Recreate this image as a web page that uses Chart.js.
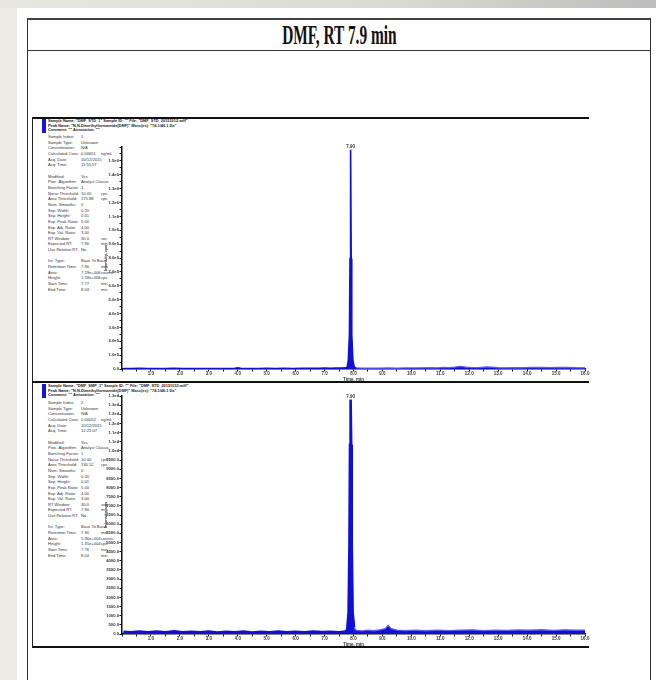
<!DOCTYPE html>
<html>
<head>
<meta charset="utf-8">
<script src="https://cdn.jsdelivr.net/npm/chart.js@4/dist/chart.umd.min.js"></script>
<style>
  html, body { margin:0; padding:0; }
  body { width:656px; height:680px; position:relative; overflow:hidden; background:#ecebe6; font-family:"Liberation Sans", Arial, sans-serif; }
  #topbar { position:absolute; left:0; top:0; width:656px; height:8px; background:linear-gradient(to right,#e8e7e2 0%,#d9d9d6 60%,#bdbdbb 100%); }
  #page { position:absolute; left:17px; top:8px; width:639px; height:672px; background:#fff; }
  #frame { position:absolute; left:27px; top:18px; width:622px; height:700px; border:1px solid #333; border-top:2px solid #444; }
  #titlerow { position:absolute; left:0; top:0; width:622px; height:30px; border-bottom:1px solid #333; text-align:center; }
  #title { display:inline-block; font-family:"Liberation Serif", "Times New Roman", serif; font-weight:bold; font-size:27px; line-height:30px; color:#111; transform:scaleX(0.57); transform-origin:center; white-space:nowrap; }
  .panel { position:absolute; left:32px; width:556px; border-left:1px solid #222; }
  .ptop { position:absolute; left:0; top:0; width:556px; height:0; border-top:2px solid #111; }
  .pbot { position:absolute; left:0; width:556px; height:0; border-top:2px solid #111; }
  .bluebar { position:absolute; left:9px; width:4px; height:14px; background:#1515d8; }
  .hdr { position:absolute; left:15px; font-size:3.9px; line-height:4.7px; font-weight:bold; color:#222; white-space:nowrap; }
  .info { position:absolute; left:15px; font-size:4.1px; line-height:5.67px; color:#333; white-space:nowrap; }
  .info .row { height:5.67px; }
  .info .k { display:inline-block; width:33px; }
  .info .v { display:inline-block; width:20px; }
  canvas { position:absolute; }
</style>
</head>
<body>
<div id="topbar"></div>
<div id="page"></div>
<div id="frame"><div id="titlerow"><span id="title">DMF, RT 7.9 min</span></div></div>

<div class="panel" style="top:117px;height:265px;">
  <div class="ptop"></div>
  <div class="bluebar" style="top:2px;"></div>
  <div class="hdr" id="hdr1" style="top:2px;"></div>
  <div class="info" id="info1" style="top:17px;"></div>
</div>
<div class="panel" style="top:382px;height:266px;">
  <div class="bluebar" style="top:2px;"></div>
  <div class="hdr" id="hdr2" style="top:2px;"></div>
  <div class="info" id="info2" style="top:18px;"></div>
  <div class="pbot" style="top:264px;"></div>
</div>
<div class="pbot" style="left:32px;top:381px;width:557px;position:absolute;"></div>

<canvas id="c1" width="489" height="244" style="left:102px;top:138px;width:489px;height:244px;"></canvas>
<canvas id="c2" width="489" height="260" style="left:102px;top:387px;width:489px;height:260px;"></canvas>

<script>
// ---------- data ----------
const times1 = [0.05,0.3,0.6,0.9,1.2,1.5,1.8,2.1,2.4,2.7,3.0,3.3,3.6,3.9,4.0,4.1,4.4,4.7,5.0,5.3,5.6,5.9,6.2,6.5,6.8,7.0,7.2,7.4,7.6,7.74,7.78,7.82,7.86,7.88,7.90,7.92,7.94,7.98,8.03,8.1,8.3,8.6,8.9,9.2,9.5,9.8,10.1,10.4,10.7,10.9,11.1,11.3,11.5,11.7,11.9,12.1,12.3,12.6,12.8,13.0,13.3,13.6,13.9,14.2,14.5,14.8,15.1,15.4,15.7,16.0];
const intens1 = [4000,3000,4500,3500,4000,3000,4200,3500,4000,3300,4100,3600,4000,5500,9000,5000,4000,3500,4200,3800,4500,4000,5000,4200,5500,6000,5000,7000,6500,8000,12000,60000,250000,800000,1590000,800000,250000,60000,12000,8000,6000,7000,6500,7500,7000,8000,7500,8500,9500,8000,12000,10000,14000,19000,13000,10000,9500,15000,13000,9000,8500,10000,9000,12000,11000,9500,12000,11000,9000,8500];

const times2 = [0.05,0.3,0.6,0.9,1.2,1.5,1.8,2.1,2.4,2.7,3.0,3.3,3.6,3.9,4.2,4.5,4.8,5.1,5.4,5.7,6.0,6.3,6.6,6.9,7.2,7.5,7.7,7.78,7.83,7.86,7.88,7.90,7.92,7.94,7.97,8.02,8.1,8.3,8.5,8.7,8.9,9.1,9.2,9.3,9.5,9.8,10.1,10.5,10.9,11.3,11.7,12.1,12.5,12.9,13.3,13.7,14.1,14.5,14.9,15.3,15.7,16.0];
const intens2 = [120,90,140,100,130,95,150,90,120,100,140,85,120,100,130,80,115,95,130,90,120,100,130,105,125,100,130,200,1200,5000,10500,13000,10500,5000,1200,350,200,170,220,180,230,300,480,300,220,190,210,180,220,190,210,230,190,215,200,225,210,235,200,230,210,215];

const xTickLabels = ['1.0','2.0','3.0','4.0','5.0','6.0','7.0','8.0','9.0','10.0','11.0','12.0','13.0','14.0','15.0','16.0'];
const yTickLabels1 = ['0.0','1.0e5','2.0e5','3.0e5','4.0e5','5.0e5','6.0e5','7.0e5','8.0e5','9.0e5','1.0e6','1.1e6','1.2e6','1.3e6','1.4e6','1.5e6'];
const yTickLabels2 = ['0.0','500.0','1000.0','1500.0','2000.0','2500.0','3000.0','3500.0','4000.0','4500.0','5000.0','5500.0','6000.0','6500.0','7000.0','7500.0','8000.0','8500.0','9000.0','9500.0','1.0e4','1.1e4','1.1e4','1.2e4','1.2e4','1.3e4','1.3e4'];
const peakLabel = '7.90';

const header1 = ['Sample Name: "DMF_STD_1"  Sample ID: ""  File: "DMF_STD_20151012.wiff"', 'Peak Name: "N,N-Dimethylformamide(DMF)"  Mass(es): "74.1/46.1 Da"', 'Comment: ""  Annotation: ""'];
const header2 = ['Sample Name: "DMF_SMP_1"  Sample ID: ""  File: "DMF_STD_20151012.wiff"', 'Peak Name: "N,N-Dimethylformamide(DMF)"  Mass(es): "74.1/46.1 Da"', 'Comment: ""  Annotation: ""'];
const info1 = [['Sample Index:','1',''],['Sample Type:','Unknown',''],['Concentration:','N/A',''],['Calculated Conc:','0.00651','ng/mL'],['Acq. Date:','10/12/2015',''],['Acq. Time:','11:55:57',''],['','',''],['Modified:','Yes',''],['Proc. Algorithm:','Analyst Classic',''],['Bunching Factor:','1',''],['Noise Threshold:','10.00','cps'],['Area Threshold:','175.88','cps'],['Num. Smooths:','0',''],['Sep. Width:','0.20',''],['Sep. Height:','0.01',''],['Exp. Peak Ratio:','5.00',''],['Exp. Adj. Ratio:','4.00',''],['Exp. Val. Ratio:','3.00',''],['RT Window:','30.0','sec'],['Expected RT:','7.90','min'],['Use Relative RT:','No',''],['','',''],['Int. Type:','Base To Base',''],['Retention Time:','7.90','min'],['Area:','7.19e+006','counts'],['Height:','1.58e+006','cps'],['Start Time:','7.77','min'],['End Time:','8.03','min']];
const info2 = [['Sample Index:','2',''],['Sample Type:','Unknown',''],['Concentration:','N/A',''],['Calculated Conc:','0.00052','ng/mL'],['Acq. Date:','10/12/2015',''],['Acq. Time:','12:21:07',''],['','',''],['Modified:','Yes',''],['Proc. Algorithm:','Analyst Classic',''],['Bunching Factor:','1',''],['Noise Threshold:','10.00','cps'],['Area Threshold:','130.52','cps'],['Num. Smooths:','0',''],['Sep. Width:','0.20',''],['Sep. Height:','0.01',''],['Exp. Peak Ratio:','5.00',''],['Exp. Adj. Ratio:','4.00',''],['Exp. Val. Ratio:','3.00',''],['RT Window:','30.0','sec'],['Expected RT:','7.90','min'],['Use Relative RT:','No',''],['','',''],['Int. Type:','Base To Base',''],['Retention Time:','7.90','min'],['Area:','5.96e+004','counts'],['Height:','1.31e+004','cps'],['Start Time:','7.76','min'],['End Time:','8.04','min']];

// ---------- text blocks ----------
function fillHeader(id, lines){ document.getElementById(id).innerHTML = lines.map(l => '<div>'+l.replace(/</g,'&lt;')+'</div>').join(''); }
function fillInfo(id, rows){ document.getElementById(id).innerHTML = rows.map(r => '<div class="row"><span class="k">'+r[0]+'</span><span class="v">'+r[1]+'</span><span>'+r[2]+'</span></div>').join(''); }
fillHeader('hdr1', header1); fillHeader('hdr2', header2);
fillInfo('info1', info1); fillInfo('info2', info2);

// ---------- charts ----------
const BLUE = '#0f0fd6';
const LIGHT = '#5c5cf2';

const peakLabelPlugin = {
  id: 'peakLabel',
  afterDatasetsDraw(chart) {
    const ds = chart.data.datasets[0].data;
    let best = ds[0];
    ds.forEach(p => { if (p.y > best.y) best = p; });
    const x = chart.scales.x.getPixelForValue(best.x);
    const y = chart.scales.y.getPixelForValue(best.y);
    const ctx = chart.ctx;
    ctx.save();
    ctx.font = 'bold 4.5px "Liberation Sans"';
    ctx.fillStyle = '#333';
    ctx.textAlign = 'center';
    ctx.textBaseline = 'bottom';
    ctx.fillText(peakLabel, x, y - 1);
    ctx.restore();
  }
};

function makeChart(id, times, intens, yMax, yStep, yLabelsEvery, yLabels, lightAfter, baseWidth) {
  const pts = times.map((t, i) => ({x: t, y: intens[i]}));
  return new Chart(document.getElementById(id), {
    type: 'line',
    data: { datasets: [{
      data: pts,
      borderColor: BLUE,
      backgroundColor: BLUE,
      borderWidth: 1.4,
      pointRadius: 0,
      tension: 0,
      fill: 'origin',
      segment: {
        borderColor: c => (c.p0.parsed.x >= lightAfter ? LIGHT : BLUE),
        borderWidth: c => (c.p0.parsed.x >= lightAfter ? 1.3 : baseWidth)
      }
    }]},
    options: {
      responsive: false,
      animation: false,
      devicePixelRatio: 1,
      layout: { padding: { top: 9, right: 6, left: 0, bottom: 0 } },
      plugins: { legend: { display: false }, tooltip: { enabled: false } },
      scales: {
        x: {
          type: 'linear', min: 0, max: 16,
          afterFit: s => { s.height = 13; },
          border: { display: true, color: '#111', width: 1.5 },
          grid: { drawOnChartArea: false, drawTicks: true, tickLength: 2.5, color: '#111', lineWidth: 1 },
          ticks: {
            stepSize: 0.5, autoSkip: false, maxRotation: 0, padding: 0,
            color: '#333', font: { size: 4.5, family: '"Liberation Sans"', weight: 'bold' },
            callback: v => (Number.isInteger(v) && v >= 1 ? xTickLabels[v - 1] : '')
          },
          title: { display: true, text: 'Time, min', color: '#333', padding: { top: 0, bottom: 0 }, font: { size: 4.5, family: '"Liberation Sans"', weight: 'bold' } }
        },
        y: {
          type: 'linear', min: 0, max: yMax,
          afterFit: s => { s.width = 20; },
          border: { display: true, color: '#111', width: 1.5 },
          grid: { drawOnChartArea: false, drawTicks: true, tickLength: 2.5, color: '#111', lineWidth: 1 },
          ticks: {
            stepSize: yStep, autoSkip: false, padding: 0.5,
            color: '#333', font: { size: 4.2, family: '"Liberation Sans"', weight: 'bold' },
            callback: (v) => {
              const k = Math.round(v / yStep);
              if (k % yLabelsEvery !== 0) return '';
              return yLabels[k / yLabelsEvery] || '';
            }
          },
          title: { display: true, text: 'Intensity, cps', color: '#333', padding: { top: 1, bottom: 0 }, font: { size: 4.2, family: '"Liberation Sans"', weight: 'bold' } }
        }
      }
    },
    plugins: [peakLabelPlugin]
  });
}

makeChart('c1', times1, intens1, 1610000, 50000, 2, yTickLabels1, 8.05, 1.6);
makeChart('c2', times2, intens2, 13200, 500, 1, yTickLabels2, 8.0, 2.6);
</script>
</body>
</html>
